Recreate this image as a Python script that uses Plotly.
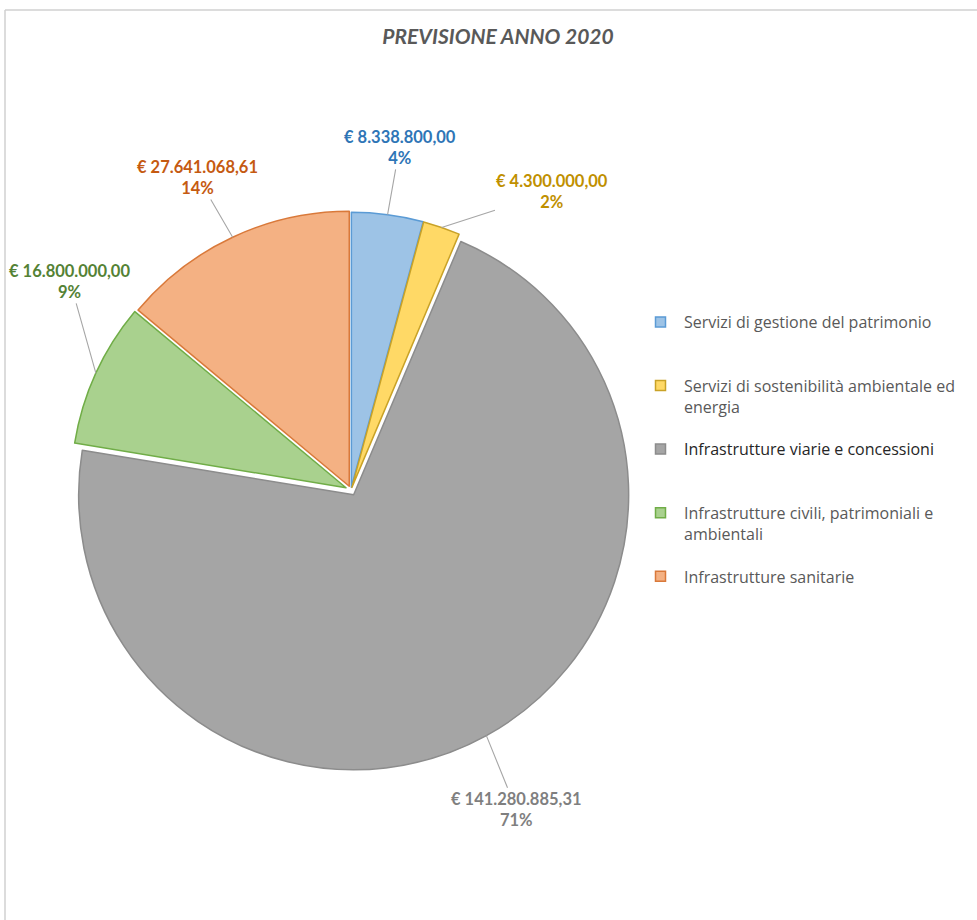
import math
import plotly.graph_objects as go

# ---------------- data ----------------
categories = [
    "Servizi di gestione del patrimonio",
    "Servizi di sostenibilità ambientale ed energia",
    "Infrastrutture viarie e concessioni",
    "Infrastrutture civili, patrimoniali e ambientali",
    "Infrastrutture sanitarie",
]
NB = "\u00a0"
legend_labels = [
    "Servizi di gestione del patrimonio<br>" + NB,
    "Servizi di sostenibilità ambientale ed<br>energia",
    "<span style='color:#262626'>Infrastrutture viarie e concessioni</span><br>" + NB,
    "Infrastrutture civili, patrimoniali e<br>ambientali",
    "Infrastrutture sanitarie<br>" + NB,
]
values = [8338800.00, 4300000.00, 141280885.31, 16800000.00, 27641068.61]
pct_labels = [4, 2, 71, 9, 14]
title_text = "PREVISIONE ANNO 2020"

# ---------------- styles ----------------
fill_colors = ["#9DC3E6", "#FFD966", "#A5A5A5", "#A9D18E", "#F4B183"]
line_colors = ["#5B9BD5", "#C9A227", "#8C8C8C", "#70AD47", "#D9793A"]
text_colors = ["#2E75B6", "#BF9000", "#7F7F7F", "#548235", "#C55A11"]
pulls = [0.01, 0.01, 0.02, 0.02, 0.015]
label_angle_nudge = [0.5, 15, 1.5, 12, -1]   # degrees, label placement tweak
label_dist = [346, 360, 360, 350, 348]        # px from pie centre

W, H = 977, 920
CX, CY = 351, 490      # pie centre in px (from top-left)
R = 275                # pie radius in px
maxpull = max(pulls)
side = 2 * R * (1 + maxpull)

dom_x = [(CX - side / 2) / W, (CX + side / 2) / W]
dom_y = [(H - CY - side / 2) / H, (H - CY + side / 2) / H]

FONT = "Lato, Open Sans, sans-serif"


def fmt_eur(v):
    s = f"{v:,.2f}"
    s = s.replace(",", "X").replace(".", ",").replace("X", ".")
    return "€ " + s


total = sum(values)

fig = go.Figure()
fig.add_trace(go.Pie(
    labels=categories,
    values=values,
    sort=False,
    direction="clockwise",
    rotation=0,
    pull=pulls,
    textinfo="none",
    hoverinfo="label+value+percent",
    showlegend=False,
    marker=dict(colors=fill_colors, line=dict(color=line_colors, width=1.5)),
    domain=dict(x=dom_x, y=dom_y),
))

# legend entries (drawn by the library's legend)
for i, lab in enumerate(legend_labels):
    fig.add_trace(go.Scatter(
        x=[None], y=[None], mode="markers", name=lab,
        legendgroup=f"g{i}",
        marker=dict(symbol="square", size=10, color=fill_colors[i],
                    line=dict(color=line_colors[i], width=1.5)),
        hoverinfo="skip",
    ))

# data labels with leader lines, computed from the slice angles
annotations = []
cum = 0.0
for i, v in enumerate(values):
    frac = v / total
    mid = (cum + frac / 2) * 360.0
    cum += frac
    th = math.radians(mid)
    rr = R * (1 + pulls[i])
    tipx = CX + rr * math.sin(th)
    tipy = CY - rr * math.cos(th)
    th2 = math.radians(mid + label_angle_nudge[i])
    tx = CX + label_dist[i] * math.sin(th2)
    ty = CY - label_dist[i] * math.cos(th2)
    annotations.append(dict(
        x=tipx / W, y=1 - tipy / H, xref="paper", yref="paper",
        ax=tx - tipx, ay=ty - tipy,
        text=f"<b>{fmt_eur(v)}<br>{pct_labels[i]}%</b>",
        showarrow=True, arrowhead=0, arrowwidth=1.1, arrowcolor="#A6A6A6",
        standoff=0,
        font=dict(family=FONT, size=16.5, color=text_colors[i]),
        align="center",
    ))

fig.update_layout(
    width=W, height=H,
    margin=dict(l=0, r=0, t=0, b=0),
    paper_bgcolor="white", plot_bgcolor="white",
    title=dict(text=f"<b><i>{title_text}</i></b>", x=498 / W, xanchor="center",
               y=1 - 37 / H, yanchor="middle", yref="container",
               font=dict(family=FONT, size=21, color="#595959")),
    xaxis=dict(visible=False), yaxis=dict(visible=False),
    showlegend=True,
    legend=dict(x=637 / W, xanchor="left", y=1 - 305 / H, yanchor="top",
                traceorder="grouped", tracegroupgap=19, valign="top",
                itemwidth=37,
                font=dict(family="Open Sans, Lato, sans-serif", size=16, color="#595959"),
                bgcolor="rgba(0,0,0,0)"),
    annotations=annotations,
    shapes=[
        dict(type="line", xref="paper", yref="paper", x0=5 / W, x1=1.02, y0=1 - 10 / H, y1=1 - 10 / H,
             line=dict(color="#D0D0D0", width=1.5)),
        dict(type="line", xref="paper", yref="paper", x0=5 / W, x1=5 / W, y0=-0.02, y1=1 - 10 / H,
             line=dict(color="#D0D0D0", width=1.5)),
    ],
)

fig.write_html("out.html", config={"displayModeBar": False},
               post_script="document.body.style.margin='0px';")
